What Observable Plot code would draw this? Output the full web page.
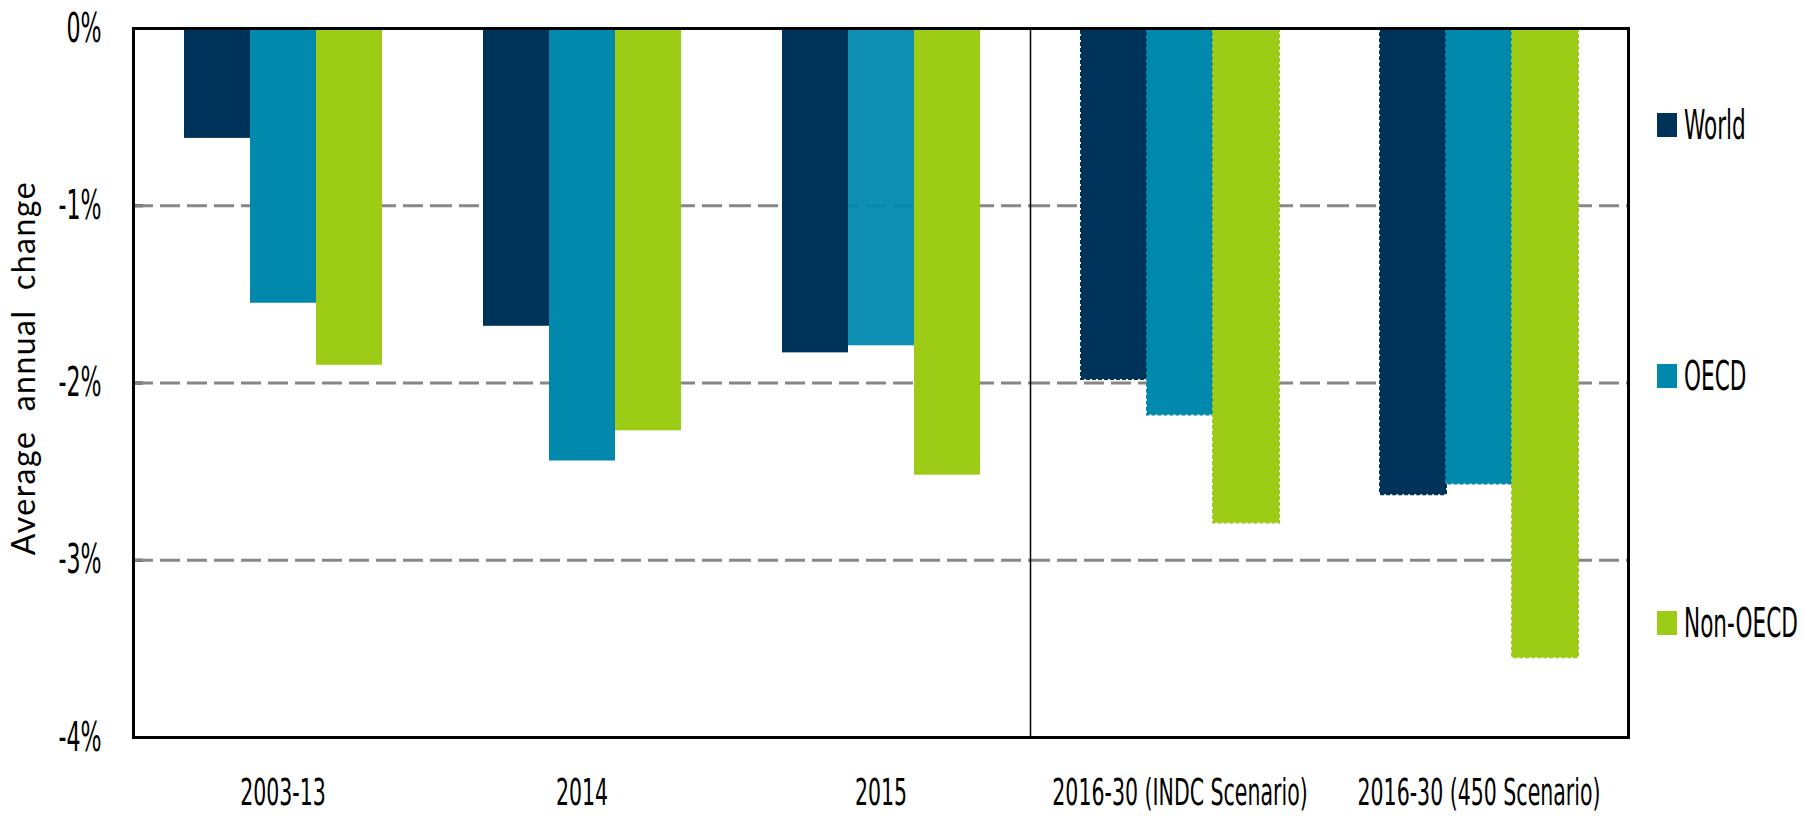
<!DOCTYPE html>
<html><head><meta charset="utf-8">
<script src="https://cdn.jsdelivr.net/npm/d3@7"></script>
<script src="https://cdn.jsdelivr.net/npm/@observablehq/plot@0.6"></script>
<style>
html,body{margin:0;padding:0;background:#fff;overflow:hidden;}
#wrap{position:relative;width:1804px;height:816px;}
#legend{position:absolute;left:1657px;top:0;width:147px;height:816px;overflow:visible;}
.item{position:absolute;left:0;height:40px;display:flex;align-items:center;white-space:nowrap;overflow:visible;}
.sw{width:20px;height:24px;margin-right:7px;flex:none;}
.lab{flex:none;display:inline-block;font-family:"DejaVu Sans Condensed","DejaVu Sans",sans-serif;font-stretch:condensed;font-size:40px;line-height:40px;transform:scaleX(0.6);transform-origin:left center;color:#000;}
g[aria-label="y-axis tick"] path{stroke-width:3px;}
</style></head>
<body><div id="wrap"><div id="chart"></div><div id="legend"></div></div>
<script>
const categories = ["2003-13", "2014", "2015", "2016-30 (INDC Scenario)", "2016-30 (450 Scenario)"];
const series = ["World", "OECD", "Non-OECD"];
const world = [-0.62, -1.68, -1.83, -1.98, -2.63];
const oecd = [-1.55, -2.44, -1.79, -2.18, -2.57];
const nonOecd = [-1.90, -2.27, -2.52, -2.79, -3.55];
const projected = ["2016-30 (INDC Scenario)", "2016-30 (450 Scenario)"];
const colors = ["#003359", "#0088ad", "#9dcc17"];
const yTicks = [0, -1, -2, -3, -4];
const gridTicks = [-1, -2, -3];
const yLabel = "Average  annual  change";

const valuesBySeries = [world, oecd, nonOecd];
const rows = categories.flatMap((c, i) => series.map((s, j) => ({
  category: c, series: s, value: valuesBySeries[j][i], projected: projected.includes(c)
})));

const chart = Plot.plot({
  width: 1804, height: 816,
  marginLeft: 132, marginRight: 176, marginTop: 28, marginBottom: 79,
  style: {background: "#fff", overflow: "visible", color: "#000"},
  fx: {domain: categories, padding: 0, label: null, tickSize: 0, tickPadding: 41, axis: "bottom"},
  x: {domain: series, paddingInner: 0, paddingOuter: 0.75, axis: null},
  y: {domain: [-4, 0], ticks: yTicks, tickFormat: d => `${d}%`, tickSize: -10, tickPadding: 42,
      label: yLabel, labelAnchor: "center", labelOffset: 121, labelArrow: "none"},
  color: {domain: series, range: colors},
  marks: [
    Plot.ruleY(gridTicks, {stroke: "#878787", strokeWidth: 3, strokeDasharray: "20,7"}),
    Plot.barY(rows.filter(d => !d.projected), {
      fx: "category", x: "series", y: "value", fill: "series",
      fillOpacity: d => (d.category === "2015" && d.series === "OECD") ? 0.94 : 1
    }),
    Plot.barY(rows.filter(d => d.projected), {
      fx: "category", x: "series", y: "value", fill: "series",
      stroke: "series", strokeWidth: 2, strokeDasharray: "4,2"
    }),
    Plot.frame({facet: "super", stroke: "#000", strokeWidth: 3}),
    Plot.frame({anchor: "left", fx: [projected[0]], stroke: "#000", strokeWidth: 1.5})
  ]
});
document.getElementById("chart").appendChild(chart);

// condensed tick labels
const svg = d3.select(chart);
function condense(sel, sx, size) {
  sel.attr("font-family", null)
    .style("font-family", '"DejaVu Sans Condensed","DejaVu Sans",sans-serif')
    .style("font-stretch", "condensed")
    .style("font-size", size + "px")
    .each(function() {
      const t = d3.select(this);
      let tr = t.attr("transform");
      if (!tr) {
        const x = +(t.attr("x") || 0), y = +(t.attr("y") || 0);
        t.attr("x", null).attr("y", null);
        tr = `translate(${x},${y})`;
      }
      t.attr("transform", tr + ` scale(${sx},1)`);
    });
}
condense(svg.selectAll('g[aria-label="fx-axis tick label"] text'), 0.6, 38);
condense(svg.selectAll('g[aria-label="y-axis tick label"] text'), 0.6, 41);
svg.selectAll('g[aria-label$="tick label"]').attr("font-size", null);
svg.selectAll('g[aria-label="y-axis label"] text')
  .style("font-family", "Lato, sans-serif").style("font-size", "32px")
  .style("letter-spacing", "1.5px").style("white-space", "pre")
  .attr("dx", 15);

// legend
const legendCenters = [125, 376, 623];
const legend = d3.select("#legend");
series.forEach((s, i) => {
  const item = legend.append("div").attr("class", "item").style("top", (legendCenters[i] - 20) + "px");
  item.append("div").attr("class", "sw").style("background", colors[i]);
  item.append("span").attr("class", "lab").text(s);
});
</script>
</body></html>
